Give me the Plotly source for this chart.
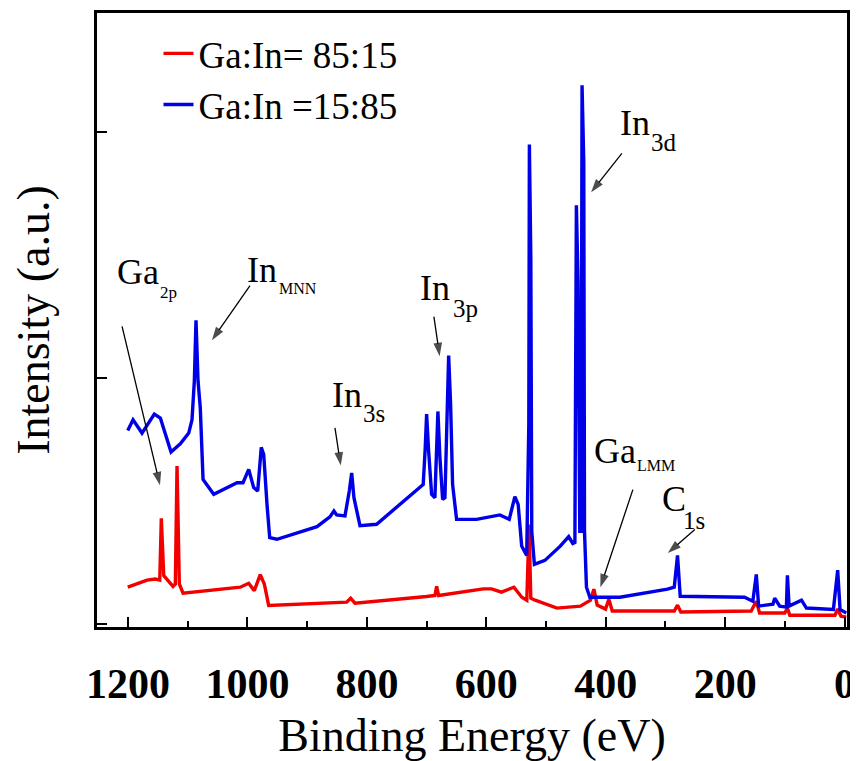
import plotly.graph_objects as go

# ---------------- data (binding energy in eV, intensity in a.u.) ----------------
energy_blue = [1200.5, 1191.6, 1176.6, 1156.0, 1145.9, 1128.0, 1112.5, 1098.4, 1092.9, 1089.0,
               1086.2, 1082.8, 1079.0, 1074.4, 1056.5, 1017.5, 1007.5, 997.9, 989.6, 982.9,
               976.9, 972.8, 967.3, 962.8, 950.6, 883.6, 861.9, 855.2, 850.6, 836.7,
               829.5, 825.5, 821.7, 811.6, 783.7, 727.9, 705.7, 702.3, 700.0, 696.6,
               691.6, 686.1, 683.2, 681.1, 677.7, 673.2, 669.3, 666.5, 663.1, 659.8,
               656.5, 649.8, 616.3, 577.3, 561.7, 552.2, 546.7, 540.8, 532.4, 528.9,
               527.9, 525.5, 523.9, 519.5, 501.9, 476.2, 462.1, 455.1, 451.7, 449.2,
               446.4, 443.5, 441.3, 439.7, 436.8, 435.6, 432.3, 426.6, 376.4, 296.5,
               285.3, 279.8, 275.3, 167.6, 153.7, 147.9, 144.0, 120.0, 117.1, 108.6,
               97.5, 95.8, 93.0, 72.2, 63.9, 18.8, 11.6, 7.6, -2.8]
intensity_blue = [0.787, 0.831, 0.777, 0.854, 0.838, 0.700, 0.733, 0.777, 0.831, 0.988,
                  1.236, 0.988, 0.879, 0.588, 0.528, 0.575, 0.575, 0.629, 0.555, 0.541,
                  0.719, 0.689, 0.487, 0.352, 0.345, 0.396, 0.436, 0.460, 0.444, 0.440,
                  0.541, 0.615, 0.514, 0.400, 0.406, 0.521, 0.568, 0.717, 0.854, 0.703,
                  0.528, 0.514, 0.703, 0.865, 0.676, 0.507, 0.514, 0.730, 1.092, 0.892,
                  0.568, 0.426, 0.426, 0.444, 0.426, 0.518, 0.487, 0.317, 0.279, 0.810,
                  1.951, 1.490, 0.377, 0.243, 0.259, 0.317, 0.356, 0.328, 0.332, 1.704,
                  1.389, 0.377, 0.377, 2.192, 1.879, 0.377, 0.150, 0.109, 0.109, 0.142,
                  0.150, 0.279, 0.113, 0.109, 0.093, 0.202, 0.073, 0.081, 0.105, 0.073,
                  0.069, 0.198, 0.073, 0.097, 0.065, 0.059, 0.219, 0.059, 0.045]

energy_red = [1200.5, 1168.2, 1154.3, 1146.9, 1144.3, 1140.2, 1124.7, 1120.8, 1118.0, 1114.1,
              1107.9, 1012.0, 998.0, 988.6, 978.6, 971.8, 964.5, 883.6, 833.9, 827.2,
              820.0, 700.0, 686.1, 683.2, 679.9, 605.3, 591.3, 574.6, 553.8, 540.6,
              532.2, 528.5, 525.5, 518.3, 498.7, 481.8, 442.5, 425.6, 419.9, 414.4,
              400.4, 394.8, 389.1, 285.3, 279.8, 274.3, 156.5, 147.9, 142.4, 100.2,
              95.8, 91.8, 16.2, 11.6, 6.1, -2.8]
intensity_red = [0.150, 0.179, 0.183, 0.179, 0.430, 0.197, 0.153, 0.163, 0.643, 0.163,
                 0.126, 0.150, 0.166, 0.136, 0.201, 0.163, 0.076, 0.085, 0.089, 0.105,
                 0.085, 0.112, 0.116, 0.153, 0.116, 0.143, 0.143, 0.130, 0.150, 0.109,
                 0.097, 0.405, 0.105, 0.097, 0.081, 0.065, 0.073, 0.097, 0.142, 0.077,
                 0.061, 0.101, 0.053, 0.053, 0.077, 0.049, 0.053, 0.093, 0.045, 0.045,
                 0.065, 0.036, 0.036, 0.061, 0.032, 0.028]

series_names = ["Ga:In= 85:15", "Ga:In =15:85"]

x_tick_values = [1200, 1000, 800, 600, 400, 200, 0]
x_tick_labels = ["1200", "1000", "800", "600", "400", "200", "0"]
x_minor_values = [1100, 900, 700, 500, 300, 100]
y_tick_values = [0, 1, 2]

# peak labels: element symbol + subscript (orbital / Auger transition)
label_main = ["Ga", "In", "In", "In", "In", "Ga", "C"]
label_sub = ["2p", "MNN", "3s", "3p", "3d", "LMM", "1s"]
label_energy = [1221.8, 1004.2, 861.9, 714.6, 379.9, 423.4, 309.6]
label_intensity = [1.433, 1.441, 0.933, 1.368, 2.038, 0.706, 0.510]
sub_energy = [1149.8, 951.0, 810.0, 659.4, 328.0, 351.5, 274.5]
sub_intensity = [1.348, 1.364, 0.858, 1.283, 1.960, 0.644, 0.421]
sub_font_size = [17, 16, 25, 25, 25, 16, 25]

arrow_tail_energy = [1210.0, 995.8, 853.5, 687.8, 373.0, 354.6, 250.8]
arrow_tail_intensity = [1.211, 1.377, 0.798, 1.251, 1.915, 0.547, 0.385]
arrow_head_energy = [1146.5, 1059.5, 843.8, 678.2, 424.5, 409.0, 296.0]
arrow_head_intensity = [0.565, 1.155, 0.645, 1.090, 1.757, 0.150, 0.289]

# ---------------- figure ----------------
SERIF = "Liberation Serif"

fig = go.Figure()
fig.add_trace(go.Scatter(x=energy_red, y=intensity_red, mode="lines", name=series_names[0],
                         line=dict(color="#f20000", width=3.4)))
fig.add_trace(go.Scatter(x=energy_blue, y=intensity_blue, mode="lines", name=series_names[1],
                         line=dict(color="#0000e6", width=3.4)))

# pointer arrows for the peak labels
for tx, ty, hx, hy in zip(arrow_tail_energy, arrow_tail_intensity, arrow_head_energy, arrow_head_intensity):
    fig.add_trace(go.Scatter(x=[tx, hx], y=[ty, hy], mode="lines+markers", showlegend=False,
                             hoverinfo="skip",
                             line=dict(color="black", width=1.3),
                             marker=dict(symbol="arrow", size=[0, 14], angleref="previous",
                                         color="black", line=dict(width=0))))

annotations = []
for txt, lx, ly in zip(label_main, label_energy, label_intensity):
    annotations.append(dict(x=lx, y=ly, xref="x", yref="y", text=txt, showarrow=False,
                            xanchor="left", yanchor="middle",
                            font=dict(family=SERIF, size=36, color="black")))
for txt, sx, sy, fs in zip(label_sub, sub_energy, sub_intensity, sub_font_size):
    annotations.append(dict(x=sx, y=sy, xref="x", yref="y", text=txt, showarrow=False,
                            xanchor="left", yanchor="middle",
                            font=dict(family=SERIF, size=fs, color="black")))

fig.update_layout(
    width=850, height=753,
    margin=dict(l=89, r=11, t=5, b=134, autoexpand=False),
    paper_bgcolor="white", plot_bgcolor="white",
    font=dict(family=SERIF, color="black"),
    showlegend=True,
    legend=dict(x=0.082, y=0.984, xanchor="left", yanchor="top",
                bgcolor="rgba(0,0,0,0)", font=dict(family=SERIF, size=37, color="black"),
                tracegroupgap=0),
    annotations=annotations,
)

fig.update_xaxes(
    range=[1252, -4], automargin=False,
    tickmode="array", tickvals=x_tick_values, ticktext=x_tick_labels,
    ticks="inside", ticklen=10, tickwidth=2, tickcolor="black",
    minor=dict(tickmode="array", tickvals=x_minor_values, ticks="inside", ticklen=6,
               tickwidth=2, tickcolor="black", showgrid=False),
    showline=True, linewidth=3, linecolor="black", mirror=True,
    showgrid=False, zeroline=False, ticklabelstandoff=18,
    tickfont=dict(family=SERIF, size=42, color="black", weight="bold"),
    title=dict(text="Binding Energy (eV)", font=dict(family=SERIF, size=46, color="black"), standoff=13),
)
fig.update_yaxes(
    range=[-0.012, 2.486], automargin=False,
    tickmode="array", tickvals=y_tick_values, showticklabels=False,
    ticks="inside", ticklen=10, tickwidth=2, tickcolor="black",
    showline=True, linewidth=3, linecolor="black", mirror=True,
    showgrid=False, zeroline=False,
    title=dict(text="Intensity (a.u.)", font=dict(family=SERIF, size=46, color="black"), standoff=32),
)

fig.write_html("out.html")
